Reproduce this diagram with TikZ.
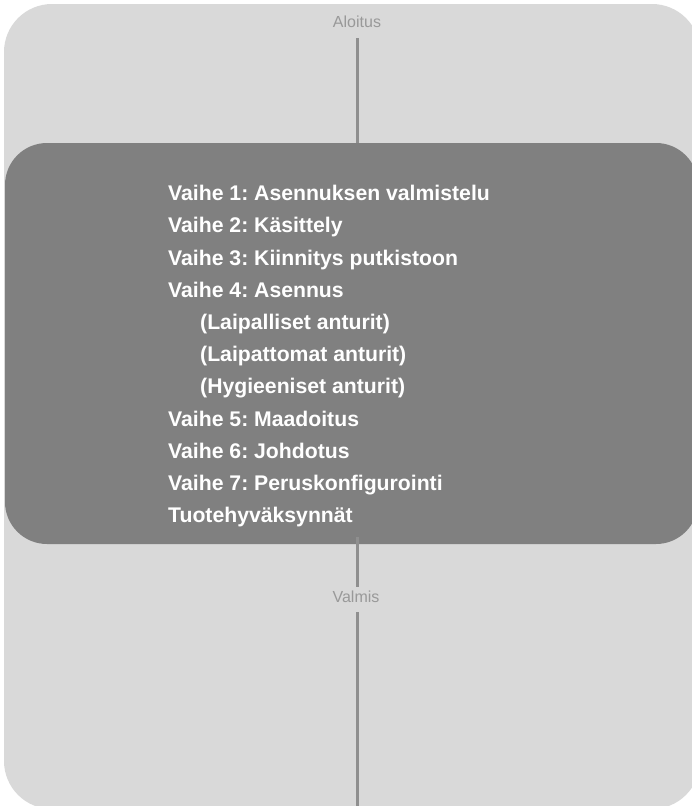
\documentclass[tikz,border=0pt]{standalone}
\usepackage{fontspec}
\setmainfont{Liberation Sans}
\frenchspacing
\definecolor{outerfill}{RGB}{217,217,217}
\definecolor{panelfill}{RGB}{128,128,128}
\definecolor{linec}{RGB}{143,143,143}
\definecolor{lblc}{RGB}{153,153,153}
\tikzset{
  lbl/.style={inner sep=0pt, anchor=base, text=lblc, font=\fontsize{16}{19}\selectfont},
  item/.style={inner sep=0pt, anchor=base west, text=white, font=\fontsize{21.2}{25}\selectfont\bfseries},
  flowline/.style={draw=linec, line width=3pt},
  panelbox/.style={fill=panelfill, rounded corners=42pt, inner sep=0pt, minimum width=693pt, minimum height=401pt}
}
\begin{document}
\begin{tikzpicture}[x=1pt,y=-1pt]
\useasboundingbox (0,0) rectangle (692,806);
\clip (0,0) rectangle (692,806);
\fill[outerfill, rounded corners=48pt] (4,4) rectangle (700,809);
\node[panelbox] (panel) at (351.5,343.5) {};
\node[lbl] (start) at (357,27.3) {Aloitus};
\coordinate (t1) at (357,38);
\draw[flowline] (t1) -- (t1 |- panel.north);
\node[item] (l1) at (168,200.7) {Vaihe 1: Asennuksen valmistelu};
\node[item] (l2) at (168,232.9) {Vaihe 2: Käsittely};
\node[item] (l3) at (168,265.1) {Vaihe 3: Kiinnitys putkistoon};
\node[item] (l4) at (168,297.3) {Vaihe 4: Asennus};
\node[item] (l5) at (200,329.5) {(Laipalliset anturit)};
\node[item] (l6) at (200,361.7) {(Laipattomat anturit)};
\node[item] (l7) at (200,393.9) {(Hygieeniset anturit)};
\node[item] (l8) at (168,426.1) {Vaihe 5: Maadoitus};
\node[item] (l9) at (168,458.3) {Vaihe 6: Johdotus};
\node[item] (l10) at (168,490.5) {Vaihe 7: Peruskonfigurointi};
\node[item] (l11) at (168,522.7) {Tuotehyväksynnät};
\node[lbl] (finish) at (356,602.7) {Valmis};
\coordinate (b1) at (357,537);
\coordinate (b2) at (357,587);
\coordinate (b3) at (357,612);
\coordinate (b4) at (357,812);
\draw[flowline] (b1) -- (b2);
\draw[flowline] (b3) -- (b4);
\end{tikzpicture}
\end{document}
